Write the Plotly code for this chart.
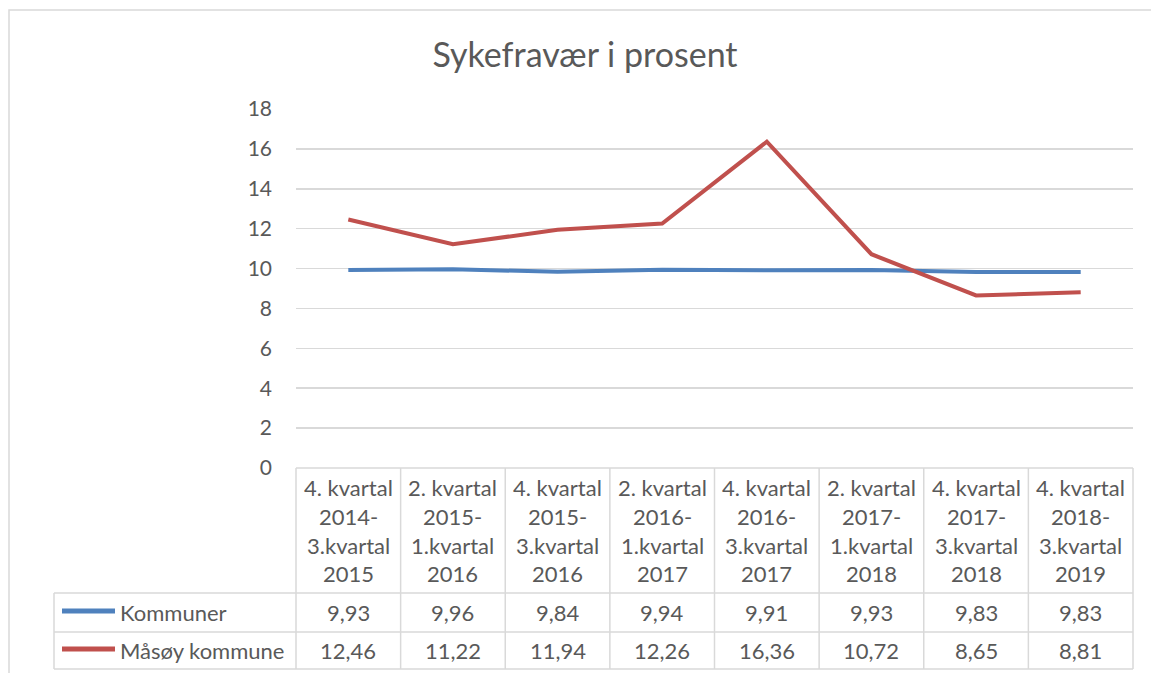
import plotly.graph_objects as go

categories = [
    ["4. kvartal", "2014-", "3.kvartal", "2015"],
    ["2. kvartal", "2015-", "1.kvartal", "2016"],
    ["4. kvartal", "2015-", "3.kvartal", "2016"],
    ["2. kvartal", "2016-", "1.kvartal", "2017"],
    ["4. kvartal", "2016-", "3.kvartal", "2017"],
    ["2. kvartal", "2017-", "1.kvartal", "2018"],
    ["4. kvartal", "2017-", "3.kvartal", "2018"],
    ["4. kvartal", "2018-", "3.kvartal", "2019"],
]
series_names = ["Kommuner", "Måsøy kommune"]
kommuner = [9.93, 9.96, 9.84, 9.94, 9.91, 9.93, 9.83, 9.83]
masoy = [12.46, 11.22, 11.94, 12.26, 16.36, 10.72, 8.65, 8.81]
series_values = [kommuner, masoy]
colors = ["#4F81BD", "#C0504D"]
y_ticks = [0, 2, 4, 6, 8, 10, 12, 14, 16, 18]

W, H = 1151, 673
PL, PR, PT, PB = 296, 1133, 109, 468
FONT = "Lato"
TXT = "#595959"
GRID = "#D9D9D9"
CELL_SIZE = 22


def px_x(p):
    return (p - PL) / (PR - PL)


def px_y(p):
    return (PB - p) / (PB - PT)


n = len(categories)
x_idx = list(range(n))

fig = go.Figure()
for name, vals, c in zip(series_names, series_values, colors):
    fig.add_trace(go.Scatter(x=x_idx, y=vals, mode="lines", name=name,
                             line=dict(color=c, width=4), showlegend=False,
                             hoverinfo="skip"))

shapes = []
shapes.append(dict(type="rect", xref="paper", yref="paper",
                   x0=px_x(9), x1=px_x(1170), y0=px_y(10), y1=px_y(700),
                   line=dict(color=GRID, width=1.5), layer="below"))
row_tops = [468, 593, 632, 669]
shapes.append(dict(type="line", xref="paper", yref="paper", x0=0, x1=1,
                   y0=px_y(468), y1=px_y(468), line=dict(color=GRID, width=1.5)))
for ry in row_tops[1:]:
    shapes.append(dict(type="line", xref="paper", yref="paper", x0=px_x(54), x1=1,
                       y0=px_y(ry), y1=px_y(ry), line=dict(color=GRID, width=1.5)))
for k in range(n + 1):
    shapes.append(dict(type="line", xref="paper", yref="paper", x0=k / n, x1=k / n,
                       y0=px_y(468), y1=px_y(669), line=dict(color=GRID, width=1.5)))
shapes.append(dict(type="line", xref="paper", yref="paper", x0=px_x(54), x1=px_x(54),
                   y0=px_y(593), y1=px_y(669), line=dict(color=GRID, width=1.5)))

annotations = []
header_ys = [487, 516, 545, 573]
for i, cat in enumerate(categories):
    for line, ly in zip(cat, header_ys):
        annotations.append(dict(x=i, y=px_y(ly), xref="x", yref="paper", text=line,
                                showarrow=False, font=dict(family=FONT, size=CELL_SIZE, color=TXT),
                                xanchor="center", yanchor="middle"))
row_ys = [612, 650]
for vals, ry, name, c in zip(series_values, row_ys, series_names, colors):
    for i, v in enumerate(vals):
        annotations.append(dict(x=i, y=px_y(ry), xref="x", yref="paper",
                                text=f"{v:.2f}".replace(".", ","), showarrow=False,
                                font=dict(family=FONT, size=CELL_SIZE, color=TXT),
                                xanchor="center", yanchor="middle"))
    shapes.append(dict(type="line", xref="paper", yref="paper", x0=px_x(62), x1=px_x(115),
                       y0=px_y(ry - 1), y1=px_y(ry - 1), line=dict(color=c, width=5)))
    annotations.append(dict(x=px_x(118), y=px_y(ry), xref="paper", yref="paper", text=name,
                            showarrow=False, font=dict(family=FONT, size=CELL_SIZE, color=TXT),
                            xanchor="left", yanchor="middle"))

fig.update_layout(
    width=W, height=H,
    margin=dict(l=PL, r=W - PR, t=PT, b=H - PB, pad=0),
    paper_bgcolor="white", plot_bgcolor="white",
    hovermode=False,
    title=dict(text="Sykefravær i prosent", x=585 / W,
               xanchor="center", y=1 - 55 / H, yanchor="middle",
               font=dict(family=FONT, size=34, color=TXT)),
    xaxis=dict(range=[-0.5, n - 0.5], showticklabels=False, showgrid=False,
               zeroline=False, showline=False, fixedrange=True),
    yaxis=dict(range=[0, 18], tickvals=y_ticks, showgrid=True, gridcolor=GRID,
               gridwidth=1.5, zeroline=False, showline=False, ticks="",
               ticklabelstandoff=23, fixedrange=True,
               tickfont=dict(family=FONT, size=21, color=TXT)),
    shapes=shapes, annotations=annotations,
)

fig.write_html(
    "out.html",
    config={"displayModeBar": False, "staticPlot": True},
    post_script="document.body.style.margin='0';document.body.style.overflow='hidden';",
)
